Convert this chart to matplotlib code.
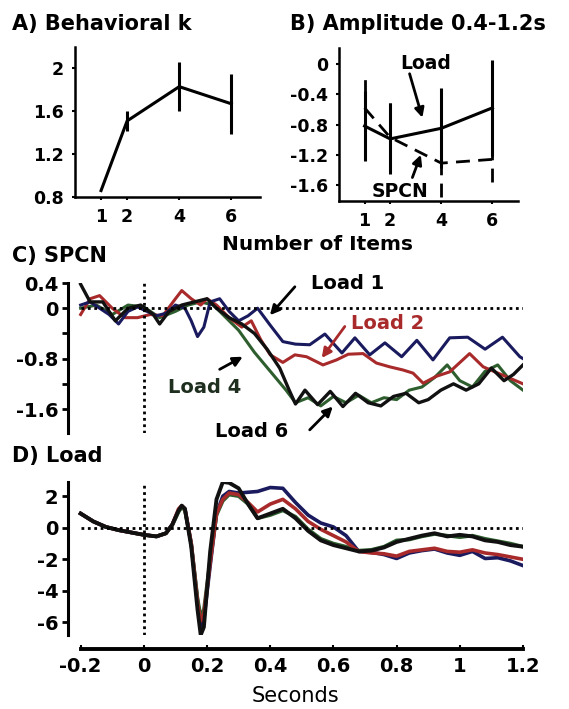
import matplotlib
matplotlib.use('Agg')
import matplotlib.pyplot as plt

plt.rcParams['font.family'] = ['DejaVu Sans']
plt.rcParams['font.weight'] = 'bold'
plt.rcParams['axes.unicode_minus'] = False

# A) behavioural capacity k per set size
items = [1, 2, 4, 6]
k_mean = [0.86, 1.51, 1.83, 1.67]
k_err = [0.0, 0.09, 0.23, 0.28]

# B) mean amplitude 0.4-1.2 s
load_amp = [-0.82, -0.99, -0.85, -0.58]
load_err = [0.46, 0.47, 0.53, 0.63]
spcn_amp = [-0.58, -0.97, -1.31, -1.26]
spcn_err = [0.40, 0.45, 0.45, 0.30]

# C) SPCN waveforms
t1c = [-0.2, -0.17, -0.14, -0.11, -0.08, -0.05, -0.02, 0.01, 0.04, 0.07,
       0.1, 0.13, 0.15, 0.17, 0.19, 0.21, 0.24, 0.27, 0.3, 0.33,
       0.36, 0.4, 0.44, 0.48, 0.525, 0.573, 0.627, 0.668, 0.715, 0.763,
       0.816, 0.864, 0.915, 0.968, 1.025, 1.08, 1.135, 1.19, 1.2]
v1c = [0.05, 0.1, 0.0, -0.1, -0.25, -0.05, 0.02, -0.05, -0.12, -0.08,
       0.05, 0.0, -0.2, -0.45, -0.3, 0.1, 0.15, -0.05, -0.2, -0.12,
       0.0, -0.27, -0.53, -0.57, -0.58, -0.41, -0.71, -0.47, -0.74, -0.55,
       -0.77, -0.51, -0.82, -0.47, -0.46, -0.65, -0.46, -0.77, -0.8]

t2c = [-0.2, -0.17, -0.14, -0.1, -0.06, -0.02, 0.02, 0.06, 0.1, 0.12,
       0.15, 0.18, 0.2, 0.23, 0.27, 0.31, 0.34, 0.37, 0.4, 0.44,
       0.478, 0.515, 0.567, 0.61, 0.647, 0.694, 0.736, 0.778, 0.82, 0.852,
       0.884, 0.926, 0.968, 1.031, 1.074, 1.13, 1.2]
v2c = [-0.1, 0.15, 0.2, 0.0, -0.15, -0.15, -0.1, -0.12, 0.15, 0.28,
       0.15, 0.05, 0.15, 0.05, -0.15, -0.3, -0.2, -0.5, -0.74, -0.86,
       -0.74, -0.77, -0.9, -0.82, -0.73, -0.72, -0.87, -0.93, -0.98, -1.03,
       -1.19, -1.08, -1.01, -0.72, -0.93, -1.05, -1.2]

t4c = [-0.2, -0.15, -0.1, -0.05, 0.0, 0.05, 0.1, 0.14, 0.18, 0.22,
       0.26, 0.3, 0.35, 0.4, 0.45, 0.48, 0.52, 0.56, 0.6, 0.64,
       0.68, 0.72, 0.76, 0.8, 0.84, 0.88, 0.92, 0.96, 1.0, 1.04,
       1.08, 1.12, 1.16, 1.2]
v4c = [0.0, 0.05, -0.1, 0.05, 0.02, -0.15, -0.05, 0.05, 0.1, 0.05,
       -0.15, -0.35, -0.7, -1.0, -1.3, -1.5, -1.42, -1.55, -1.4, -1.5,
       -1.38, -1.5, -1.42, -1.45, -1.3, -1.25, -1.1, -0.9, -1.15, -1.25,
       -1.0, -0.9, -1.15, -1.3]

t6c = [-0.2, -0.17, -0.13, -0.09, -0.05, -0.01, 0.03, 0.05, 0.08, 0.12,
       0.16, 0.2, 0.23, 0.27, 0.31, 0.35, 0.39, 0.43, 0.46, 0.48,
       0.51, 0.55, 0.59, 0.63, 0.67, 0.71, 0.75, 0.79, 0.83, 0.87,
       0.9, 0.94, 0.98, 1.02, 1.06, 1.1, 1.14, 1.17, 1.2]
v6c = [0.38, 0.1, 0.1, -0.2, 0.0, 0.05, -0.1, -0.25, -0.05, 0.05,
       0.1, 0.15, 0.0, -0.15, -0.25, -0.4, -0.65, -0.95, -1.3, -1.52,
       -1.3, -1.53, -1.32, -1.56, -1.35, -1.5, -1.55, -1.4, -1.35, -1.5,
       -1.45, -1.3, -1.2, -1.3, -1.2, -0.95, -1.15, -1.05, -0.9]

# D) load waveforms (common time base)
t_load = [-0.2, -0.16, -0.12, -0.08, -0.04, 0.0, 0.04, 0.07, 0.09, 0.11,
          0.12, 0.13, 0.15, 0.17, 0.18, 0.19, 0.21, 0.23, 0.25, 0.27,
          0.3, 0.33, 0.36, 0.4, 0.44, 0.48, 0.52, 0.56, 0.6, 0.64,
          0.68, 0.72, 0.76, 0.8, 0.84, 0.88, 0.92, 0.96, 1.0, 1.04,
          1.08, 1.12, 1.16, 1.2]
v1d = [0.9, 0.4, 0.05, -0.15, -0.3, -0.45, -0.55, -0.35, 0.2, 1.1,
       1.35, 1.2, -1.0, -4.6, -6.2, -5.8, -2.4, 0.9, 2.0, 2.3,
       2.2, 2.25, 2.3, 2.55, 2.5, 1.6, 0.8, 0.3, 0.05, -0.5,
       -1.5, -1.55, -1.7, -1.95, -1.6, -1.45, -1.35, -1.6, -1.75, -1.5,
       -1.95, -1.9, -2.1, -2.4]
v2d = [0.9, 0.4, 0.05, -0.15, -0.3, -0.45, -0.55, -0.35, 0.2, 1.2,
       1.4, 1.2, -1.0, -4.8, -5.9, -5.5, -2.2, 0.9, 1.8, 2.2,
       2.1, 1.6, 1.0, 1.5, 1.8, 1.2, 0.4, -0.1, -0.5, -0.9,
       -1.5, -1.6, -1.65, -1.8, -1.5, -1.4, -1.3, -1.5, -1.55, -1.4,
       -1.6, -1.7, -1.85, -2.0]
v4d = [0.9, 0.4, 0.05, -0.15, -0.3, -0.45, -0.55, -0.35, 0.15, 1.0,
       1.3, 1.1, -1.0, -4.5, -5.6, -5.2, -2.0, 0.8, 1.7, 2.1,
       2.0, 1.5, 0.6, 0.8, 1.1, 0.7, -0.1, -0.7, -1.0, -1.2,
       -1.45, -1.4, -1.2, -0.8, -0.75, -0.55, -0.4, -0.5, -0.6, -0.5,
       -0.7, -0.85, -1.0, -1.2]
v6d = [0.9, 0.4, 0.05, -0.15, -0.3, -0.45, -0.55, -0.35, 0.2, 1.1,
       1.4, 1.2, -1.2, -5.2, -6.8, -6.3, -1.5, 1.8, 2.9, 2.85,
       2.5, 1.5, 0.6, 0.9, 1.2, 0.6, -0.2, -0.8, -1.1, -1.3,
       -1.5, -1.45, -1.25, -0.9, -0.7, -0.5, -0.35, -0.55, -0.45, -0.55,
       -0.8, -0.9, -1.1, -1.2]

sec_ticks = [-0.2, 0, 0.2, 0.4, 0.6, 0.8, 1, 1.2]
sec_labels = ['-0.2', '0', '0.2', '0.4', '0.6', '0.8', '1', '1.2']

c_navy = '#1a1a5e'
c_red = '#a82a2a'
c_green = '#2e5e2e'
c_black = '#111111'

W, H = 569, 709
fig = plt.figure(figsize=(W / 100, H / 100), dpi=100)


def box(left, top, right, bottom):
    return [left / W, 1 - bottom / H, (right - left) / W, (bottom - top) / H]


def style(ax, lw=1.8):
    for s in ['top', 'right']:
        ax.spines[s].set_visible(False)
    for s in ['left', 'bottom']:
        ax.spines[s].set_linewidth(lw)
    ax.tick_params(labelsize=12.5, width=1.5, length=2, pad=6)


def arrow(ax, tail, tip, color='black'):
    ax.annotate('', xy=tip, xytext=tail, annotation_clip=False,
                arrowprops=dict(arrowstyle='-|>', color=color, lw=2,
                                mutation_scale=14, shrinkA=0, shrinkB=0))


# ---- A
ax_a = fig.add_axes(box(75, 47, 260, 197))
style(ax_a)
ax_a.errorbar(items, k_mean, yerr=k_err, color='black', lw=2.2, elinewidth=2.2, capsize=0)
ax_a.set_xlim(0, 7.1)
ax_a.set_ylim(0.8, 2.2)
ax_a.set_xticks(items)
ax_a.set_yticks([0.8, 1.2, 1.6, 2])
ax_a.set_yticklabels(['0.8', '1.2', '1.6', '2'])

# ---- B
ax_b = fig.add_axes(box(339, 48, 518, 201))
style(ax_b)
ax_b.errorbar(items, load_amp, yerr=load_err, color='black', lw=2.2, elinewidth=2.2, capsize=0)
eb = ax_b.errorbar(items, spcn_amp, yerr=spcn_err, color='black', lw=2.0, elinewidth=2.0,
                   capsize=0, ls=(0, (5, 3)))
eb[2][0].set_linestyle((0, (5, 3)))
ax_b.set_xlim(0, 7.0)
ax_b.set_ylim(-1.81, 0.21)
ax_b.set_xticks(items)
ax_b.set_yticks([0, -0.4, -0.8, -1.2, -1.6])
ax_b.set_yticklabels(['0', '-0.4', '-0.8', '-1.2', '-1.6'])
ax_b.text(3.38, 0.01, 'Load', fontsize=13.5, ha='center', va='center')
arrow(ax_b, (2.76, -0.13), (3.26, -0.71))
ax_b.text(2.37, -1.69, 'SPCN', fontsize=13.5, ha='center', va='center')
arrow(ax_b, (2.87, -1.5), (3.2, -1.2))

fig.text(12 / W, 1 - 24 / H, 'A) Behavioral k', fontsize=15, va='center')
fig.text(290 / W, 1 - 24 / H, 'B) Amplitude 0.4-1.2s', fontsize=15, va='center')
fig.text(318 / W, 1 - 245 / H, 'Number of Items', fontsize=14.5, ha='center', va='center')

# ---- C
dots = (0, (1, 1.3))
ax_c = fig.add_axes(box(68, 283, 523, 433))
for s in ['top', 'right', 'bottom']:
    ax_c.spines[s].set_visible(False)
ax_c.spines['left'].set_linewidth(2.2)
ax_c.plot(t4c, v4c, color=c_green, lw=2.2)
ax_c.plot(t2c, v2c, color=c_red, lw=2.2)
ax_c.plot(t1c, v1c, color=c_navy, lw=2.2)
ax_c.plot(t6c, v6c, color=c_black, lw=2.4)
ax_c.plot([-0.2, 1.2], [0, 0], color='black', lw=2, ls=dots)
ax_c.axvline(0, color='black', lw=2, ls=dots)
ax_c.set_xlim(-0.24, 1.2)
ax_c.set_ylim(-1.98, 0.4)
ax_c.set_xticks([])
ax_c.set_yticks([0.4, 0, -0.4, -0.8, -1.2, -1.6])
ax_c.set_yticklabels(['0.4', '0', '', '-0.8', '', '-1.6'])
ax_c.tick_params(labelsize=14, width=2, length=4, pad=3)
ax_c.text(0.646, 0.39, 'Load 1', fontsize=14, ha='center', va='center')
arrow(ax_c, (0.478, 0.34), (0.399, -0.11))
ax_c.text(0.772, -0.24, 'Load 2', fontsize=14, ha='center', va='center', color=c_red)
arrow(ax_c, (0.636, -0.29), (0.563, -0.79), color=c_red)
ax_c.text(0.193, -1.26, 'Load 4', fontsize=14, ha='center', va='center', color='#1f2f1f')
arrow(ax_c, (0.24, -0.97), (0.313, -0.77))
ax_c.text(0.342, -1.96, 'Load 6', fontsize=14, ha='center', va='center')
arrow(ax_c, (0.525, -1.93), (0.598, -1.56))
fig.text(12 / W, 1 - 256 / H, 'C) SPCN', fontsize=15, va='center')

# ---- D
ax_d = fig.add_axes(box(68, 482, 523, 635))
for s in ['top', 'right']:
    ax_d.spines[s].set_visible(False)
ax_d.spines['left'].set_linewidth(2.2)
ax_d.spines['bottom'].set_linewidth(2.8)
ax_d.spines['bottom'].set_position(('outward', 10))
ax_d.spines['bottom'].set_bounds(-0.2, 1.2)
ax_d.plot(t_load, v1d, color=c_navy, lw=2.6)
ax_d.plot(t_load, v4d, color=c_green, lw=2.6)
ax_d.plot(t_load, v2d, color=c_red, lw=2.6)
ax_d.plot(t_load, v6d, color=c_black, lw=2.8)
ax_d.plot([-0.2, 1.2], [0, 0], color='black', lw=2, ls=dots)
ax_d.axvline(0, color='black', lw=2, ls=dots)
ax_d.set_xlim(-0.24, 1.2)
ax_d.set_ylim(-6.8, 2.9)
ax_d.set_yticks([2, 0, -2, -4, -6])
ax_d.set_yticklabels(['2', '0', '-2', '-4', '-6'])
ax_d.set_xticks(sec_ticks)
ax_d.set_xticklabels(sec_labels)
ax_d.tick_params(axis='y', labelsize=14, width=2, length=4, pad=3)
ax_d.tick_params(axis='x', labelsize=14, width=1.5, length=3, direction='in', pad=6)
ax_d.set_xlabel('Seconds', fontsize=15, labelpad=7)
fig.text(12 / W, 1 - 456 / H, 'D) Load', fontsize=15, va='center')

fig.savefig('out.png', dpi=100)
